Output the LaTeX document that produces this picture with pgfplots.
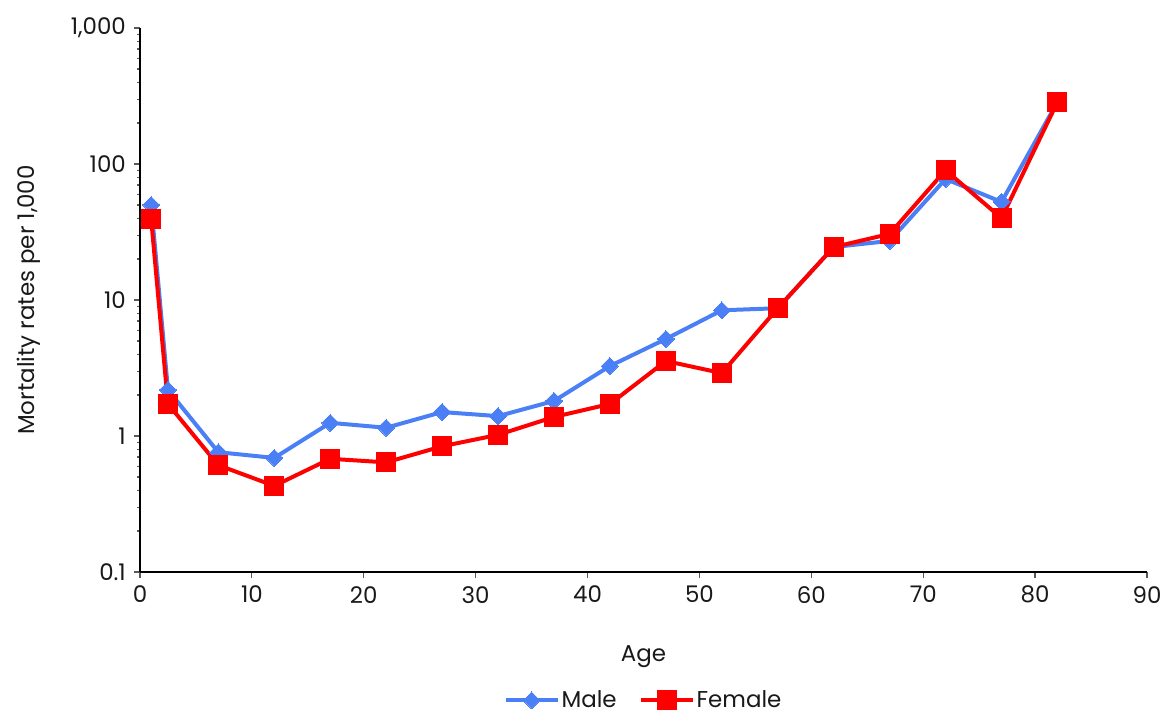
\documentclass[border=0pt]{standalone}
\usepackage{fontspec}
\setmainfont{Poppins}
\usepackage{pgfplots}
\pgfplotsset{compat=1.18}
\definecolor{mblue}{HTML}{4A7FF5}
\definecolor{fred}{HTML}{FF0000}
\begin{document}
\fontsize{24}{28}\selectfont
\begin{tikzpicture}
\useasboundingbox (0,0) rectangle (1166bp,718bp);
\begin{axis}[
  at={(140bp,146bp)}, anchor=south west,
  scale only axis, width=1007bp, height=544bp,
  xmin=0, xmax=90, ymode=log, ymin=0.1, ymax=1000,
  axis x line*=bottom, axis y line*=left,
  axis line style={line width=1.3bp, black, -},
  xtick={0,10,...,90},
  ytick={0.1,1,10,100,1000}, yticklabels={0.1,1,10,100,{1,000}},
  /pgf/number format/assume math mode=true,
  minor tick num=0,
  tick align=outside, major tick length=6bp,
  tick style={color=black!65, line width=1.2bp},
  every tick label/.append style={font=\fontsize{23}{27}\selectfont, text=black!90},
  label style={font=\fontsize{23}{27}\selectfont, text=black!90},
  xlabel={Age}, ylabel={Mortality rates per 1,000},
  xlabel style={at={(axis description cs:0.5,-0.156)}, anchor=center},
  ylabel style={at={(axis description cs:-0.11,0.5)}, anchor=center},
  legend style={at={(axis description cs:0.5,-0.236)}, anchor=center, draw=none,
    font=\fontsize{23}{27}\selectfont, text=black!90, inner sep=1bp},
  legend columns=2,
  legend cell align=left,
  legend image code/.code={\draw[mark repeat=2,mark phase=2] plot coordinates {(0bp,0bp)(26bp,0bp)(52bp,0bp)};},
  /tikz/every even column/.append style={column sep=20bp},
]
\addplot[color=mblue, line width=4bp, mark=square*, mark size=6bp, mark options={rotate=45, line width=0pt}] coordinates {
(1,50) (2.5,2.18) (7,0.76) (12,0.69) (17,1.25) (22,1.15) (27,1.5) (32,1.4) (37,1.81) (42,3.27) (47,5.17) (52,8.4) (57,8.7) (62,24.5) (67,27.2) (72,77.6) (77,52.6) (82,286)
};
\addlegendentry{Male}
\addplot[color=fred, line width=4bp, mark=square*, mark size=9.5bp, mark options={line width=0pt}] coordinates {
(1,39.4) (2.5,1.72) (7,0.61) (12,0.43) (17,0.68) (22,0.64) (27,0.84) (32,1.02) (37,1.38) (42,1.72) (47,3.56) (52,2.9) (57,8.7) (62,24.5) (67,30.6) (72,90) (77,40) (82,286)
};
\addlegendentry{Female}
\end{axis}
\end{tikzpicture}
\end{document}
